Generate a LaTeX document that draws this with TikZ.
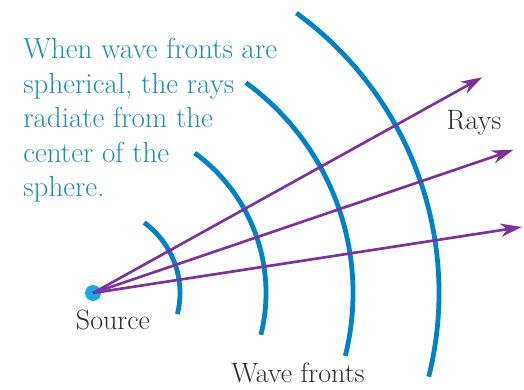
\documentclass[tikz,border=0pt]{standalone}
\definecolor{frontblue}{RGB}{0,130,200}
\definecolor{noteblue}{RGB}{30,140,185}
\definecolor{raypurple}{RGB}{125,50,155}
\definecolor{dotblue}{RGB}{25,170,230}
\definecolor{labelgray}{RGB}{45,45,45}
\usetikzlibrary{positioning,arrows.meta,calc}

\begin{document}
\begin{tikzpicture}[
  x=0.75pt, y=0.75pt,
  front/.style={draw=frontblue, line width=3.6pt},
  ray/.style={-{Stealth[length=16pt, width=10pt, inset=5pt]}, raypurple, line width=2pt},
  note/.style={text=noteblue, align=left, inner sep=0pt, font=\fontsize{21.8}{25.9}\selectfont},
  label/.style={text=labelgray, inner sep=0pt, font=\fontsize{21}{24}\selectfont}
]
\useasboundingbox (0,0) rectangle (524,389);
\node[circle, fill=dotblue, minimum size=12pt, inner sep=0pt] (src) at (93,96) {};
% wave fronts
\foreach \r in {87,173,260,346}
  \draw[front] ($(src)+(54:\r)$) arc[start angle=54, end angle=-14, radius=\r];
% rays
\coordinate (r1) at ($(src)+(29:445)$);
\coordinate (r2) at ($(src)+(18.8:444)$);
\coordinate (r3) at ($(src)+(8.75:434)$);
\draw[ray] (src.center) -- (r1);
\draw[ray] (src.center) -- (r2);
\draw[ray] (src.center) -- (r3);
\node[note, anchor=north west] (note) at (23,351) {When wave fronts are\\spherical, the rays\\radiate from the\\center of the\\sphere.};
\node[label] (srclabel) at (113,69) {Source};
\node[label] (rays) at (474,266) {Rays};
\node[label] (fronts) at (298,16) {Wave fronts};
\end{tikzpicture}
\end{document}
